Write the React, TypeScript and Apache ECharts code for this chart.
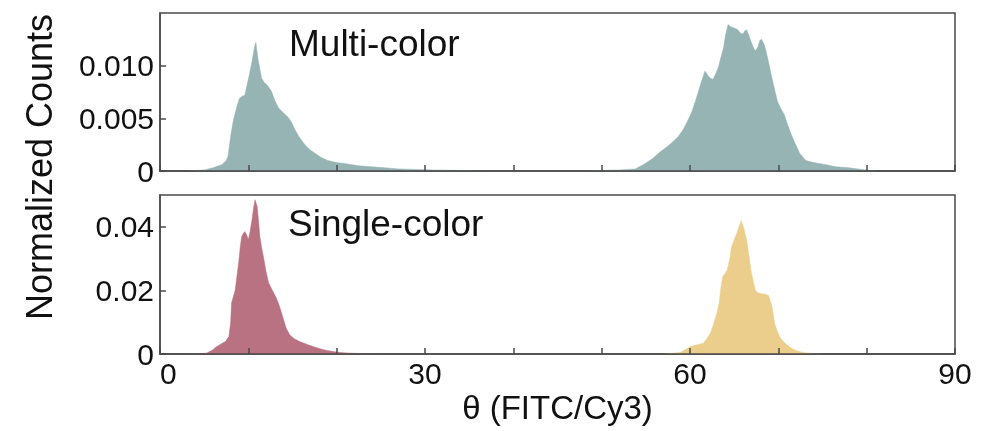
import { useEffect, useRef } from 'react';
import * as echarts from 'echarts';

// Multi-color histogram (θ in degrees, normalized counts)
const multiTheta = [
  3.0, 5.0, 6.0, 7.0, 7.5, 7.7, 8.0, 8.3, 8.7, 9.0, 9.3, 9.6, 10.0, 10.4, 10.7, 10.85, 11.1, 11.5, 11.8, 12.1,
  12.6, 13.0, 13.4, 14.0, 14.5, 14.9, 15.3, 15.7, 16.4, 17.0, 17.5, 18.2, 19.0, 20.0, 21.0, 22.5, 24.0, 25.5,
  27.0, 29.0, 31.0, 34.0, 37.0, 48.0, 50.0, 52.0, 53.8, 54.9, 55.8, 56.6, 57.4, 58.1, 58.7, 59.2, 59.7, 60.2,
  60.6, 60.9, 61.3, 61.7, 62.0, 62.3, 62.6, 62.9, 63.2, 63.5, 63.8, 64.0, 64.3, 64.6, 64.9, 65.2, 65.4, 65.7,
  66.0, 66.2, 66.4, 66.7, 66.9, 67.2, 67.4, 67.7, 67.9, 68.1, 68.4, 68.6, 68.9, 69.2, 69.5, 69.9, 70.3, 70.7,
  71.0, 71.4, 71.9, 72.4, 73.1, 74.0, 75.4, 76.5, 78.0, 79.9, 81.0,
];
const multiCounts = [
  0, 0.0001, 0.0003, 0.0006, 0.001, 0.0014, 0.0033, 0.0048, 0.0061, 0.0069, 0.0071, 0.0072, 0.0087, 0.0103,
  0.0118, 0.0122, 0.0106, 0.0088, 0.0084, 0.0082, 0.0076, 0.0067, 0.006, 0.0055, 0.0051, 0.0046, 0.0039, 0.0033,
  0.0025, 0.002, 0.0017, 0.0013, 0.001, 0.0008, 0.0007, 0.0005, 0.0004, 0.0003, 0.0002, 0.00015, 0.0001, 0.00005,
  0, 0, 0.00005, 0.0001, 0.0002, 0.0007, 0.0012, 0.0018, 0.0023, 0.0028, 0.0033, 0.0039, 0.0047, 0.0056, 0.0066,
  0.0074, 0.0085, 0.0095, 0.0091, 0.0088, 0.0087, 0.0092, 0.0098, 0.0108, 0.0117, 0.0128, 0.0139, 0.0137, 0.0136,
  0.0135, 0.0134, 0.0131, 0.013, 0.0133, 0.0134, 0.0128, 0.0123, 0.0117, 0.0114, 0.0118, 0.0124, 0.0125, 0.012,
  0.0114, 0.0103, 0.0091, 0.008, 0.0066, 0.0059, 0.0053, 0.0045, 0.0036, 0.0026, 0.0017, 0.001, 0.0008, 0.0006,
  0.0004, 0.0003, 0.0001, 0,
];

// Single-color histograms
const fitcTheta = [
  3.0, 4.5, 5.3, 5.9, 6.4, 7.0, 7.4, 7.8, 8.0, 8.1, 8.5, 8.9, 9.1, 9.25, 9.45, 9.6, 9.8, 10.0, 10.2, 10.4, 10.6,
  10.75, 11.0, 11.15, 11.3, 11.5, 11.7, 12.0, 12.3, 12.8, 13.1, 13.4, 13.7, 14.0, 14.3, 14.7, 15.2, 15.8, 16.6,
  17.4, 18.2, 18.9, 19.8, 20.7, 22.0, 23.3, 25.0,
];
const fitcCounts = [
  0, 0.0001, 0.0003, 0.0012, 0.0023, 0.0033, 0.0039, 0.0055, 0.01, 0.016, 0.02, 0.0286, 0.034, 0.037, 0.038,
  0.0385, 0.0375, 0.036, 0.0385, 0.042, 0.046, 0.0485, 0.0464, 0.042, 0.037, 0.0335, 0.0307, 0.026, 0.0223,
  0.0196, 0.018, 0.016, 0.0135, 0.0107, 0.008, 0.006, 0.0048, 0.0039, 0.0031, 0.0023, 0.0016, 0.0011, 0.0007,
  0.0004, 0.0002, 0.0001, 0,
];
const cy3Theta = [
  57.0, 58.0, 58.9, 59.5, 60.0, 60.8, 61.5, 61.9, 62.3, 62.6, 62.8, 63.1, 63.3, 63.5, 63.7, 64.0, 64.2, 64.5,
  64.7, 65.0, 65.3, 65.6, 65.8, 66.1, 66.4, 66.7, 66.9, 67.2, 67.4, 67.7, 68.0, 68.5, 68.9, 69.1, 69.3, 69.6,
  69.9, 70.2, 70.7, 71.3, 72.0, 72.8, 73.9, 75.0,
];
const cy3Counts = [
  0, 0.0002, 0.0005, 0.0014, 0.0023, 0.0029, 0.0034, 0.0048, 0.0065, 0.0088, 0.0107, 0.0135, 0.016, 0.021,
  0.0243, 0.0255, 0.0263, 0.03, 0.0337, 0.036, 0.038, 0.0405, 0.042, 0.0395, 0.036, 0.0305, 0.0263, 0.0225,
  0.02, 0.0193, 0.019, 0.0188, 0.0184, 0.0165, 0.0147, 0.0095, 0.007, 0.0052, 0.0035, 0.0021, 0.0011, 0.0005,
  0.0001, 0,
];

const xLabeledTicks = [0, 30, 60, 90];
const panelLabels = ['Multi-color', 'Single-color'];
const xAxisName = 'θ (FITC/Cy3)';
const yAxisName = 'Normalized Counts';

const zip = (xs: number[], ys: number[]) => xs.map((x, i) => [x, ys[i]]);

export default function App() {
  const ref = useRef<HTMLDivElement>(null);
  useEffect(() => {
    if (!ref.current) return;
    const chart = echarts.init(ref.current, null, { renderer: 'svg' });
    const font = '"Liberation Sans", Arial, Helvetica, sans-serif';
    const axisColor = '#4a4a4a';
    const textColor = '#111';
    const teal = '#95b4b3';
    const pink = '#b87282';
    const yellow = '#ecce8c';

    const makeX = (gridIndex: number, showLabels: boolean) => ({
      type: 'value',
      gridIndex,
      min: 0,
      max: 90,
      interval: 10,
      z: 5,
      axisLine: { show: true, lineStyle: { color: axisColor, width: 1.5 } },
      axisTick: { show: true, inside: true, length: 6, lineStyle: { color: axisColor, width: 1.5 } },
      axisLabel: showLabels
        ? {
            show: true,
            margin: 4,
            fontSize: 30,
            fontFamily: font,
            color: textColor,
            alignMinLabel: 'left',
            formatter: (v: number) => (xLabeledTicks.includes(v) ? String(v) : ''),
          }
        : { show: false },
      splitLine: { show: false },
      ...(showLabels
        ? {
            name: xAxisName,
            nameLocation: 'middle',
            nameGap: 37,
            nameTextStyle: { fontSize: 33, fontFamily: font, color: textColor },
          }
        : {}),
    });

    const makeY = (gridIndex: number, max: number, interval: number, digits: number) => ({
      type: 'value',
      gridIndex,
      min: 0,
      max,
      interval,
      z: 5,
      axisLine: { show: true, lineStyle: { color: axisColor, width: 1.5 } },
      axisTick: { show: true, inside: true, length: 6, lineStyle: { color: axisColor, width: 1.5 } },
      axisLabel: {
        show: true,
        margin: 6,
        fontSize: 30,
        fontFamily: font,
        color: textColor,
        showMaxLabel: false,
        formatter: (v: number) => (v === 0 ? '0' : v.toFixed(digits)),
      },
      splitLine: { show: false },
    });

    const areaSeries = (name: string, data: number[][], color: string, idx: number) => ({
      type: 'line',
      name,
      xAxisIndex: idx,
      yAxisIndex: idx,
      data,
      showSymbol: false,
      symbol: 'none',
      lineStyle: { width: 0.5, color },
      areaStyle: { color, opacity: 1 },
      z: 2,
    });

    chart.setOption({
      animation: false,
      grid: [
        { left: 160, right: 40, top: 13, height: 158, show: true, borderColor: axisColor, borderWidth: 1.5, backgroundColor: 'transparent' },
        { left: 160, right: 40, top: 195, height: 159, show: true, borderColor: axisColor, borderWidth: 1.5, backgroundColor: 'transparent' },
      ],
      xAxis: [makeX(0, false), makeX(1, true)],
      yAxis: [makeY(0, 0.015, 0.005, 3), makeY(1, 0.05, 0.02, 2)],
      series: [
        areaSeries('Multi-color', zip(multiTheta, multiCounts), teal, 0),
        areaSeries('Single-color FITC', zip(fitcTheta, fitcCounts), pink, 1),
        areaSeries('Single-color Cy3', zip(cy3Theta, cy3Counts), yellow, 1),
      ],
      graphic: [
        {
          type: 'text',
          left: 289,
          top: 25,
          z: 10,
          style: { text: panelLabels[0], fontSize: 37, fontFamily: font, fill: textColor },
        },
        {
          type: 'text',
          left: 288,
          top: 205,
          z: 10,
          style: { text: panelLabels[1], fontSize: 37, fontFamily: font, fill: textColor },
        },
        {
          type: 'text',
          x: 39,
          y: 167,
          rotation: Math.PI / 2,
          z: 10,
          style: {
            text: yAxisName,
            fontSize: 36,
            fontFamily: font,
            fill: textColor,
            textAlign: 'center',
            textVerticalAlign: 'middle',
            align: 'center',
            verticalAlign: 'middle',
          },
        },
      ],
    });
    return () => chart.dispose();
  }, []);
  return <div ref={ref} style={{ position: 'fixed', left: 0, top: 0, width: 995, height: 431 }} />;
}
